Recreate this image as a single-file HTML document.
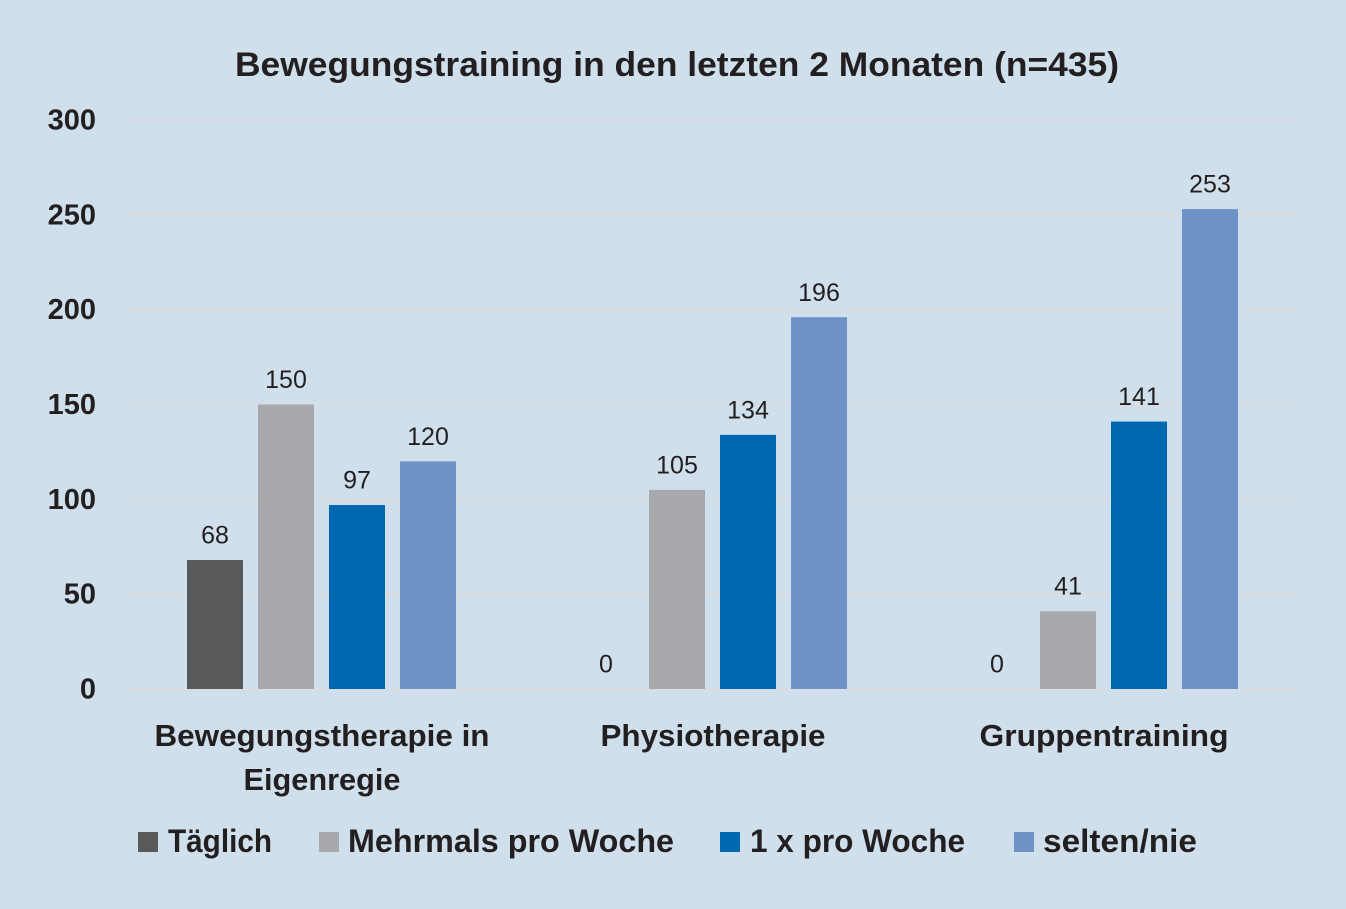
<!DOCTYPE html>
<html lang="de">
<head>
<meta charset="utf-8">
<title>Bewegungstraining in den letzten 2 Monaten</title>
<style>
html,body{margin:0;padding:0;background:#cfe0ec;}
svg{display:block;}
text{font-family:"Liberation Sans",sans-serif;fill:#231f20;}
.b{font-weight:700;}
</style>
</head>
<body>
<svg id="chart" xmlns="http://www.w3.org/2000/svg" width="1346" height="909" viewBox="0 0 1346 909">
<rect x="0" y="0" width="1346" height="909" fill="#cfe0ec"/>
<text class="b" x="677" y="76" font-size="34" text-anchor="middle" textLength="884" lengthAdjust="spacingAndGlyphs">Bewegungstraining in den letzten 2 Monaten (n=435)</text>
<g id="grid"></g>
<g id="ticks"></g>
<g id="bars"></g>
<g id="labels"></g>
<text class="b" x="322" y="746" font-size="31" text-anchor="middle" textLength="335" lengthAdjust="spacingAndGlyphs">Bewegungstherapie in</text>
<text class="b" x="322" y="790" font-size="31" text-anchor="middle" textLength="157" lengthAdjust="spacingAndGlyphs">Eigenregie</text>
<text class="b" x="713" y="746" font-size="31" text-anchor="middle" textLength="225" lengthAdjust="spacingAndGlyphs">Physiotherapie</text>
<text class="b" x="1104" y="746" font-size="31" text-anchor="middle" textLength="249" lengthAdjust="spacingAndGlyphs">Gruppentraining</text>
<g>
<rect x="138" y="832" width="20" height="20" fill="#58595b"/>
<text class="b" x="168" y="852" font-size="32" textLength="104" lengthAdjust="spacingAndGlyphs">Täglich</text>
<rect x="319" y="832" width="20" height="20" fill="#a7a9ac"/>
<text class="b" x="348" y="852" font-size="32" textLength="326" lengthAdjust="spacingAndGlyphs">Mehrmals pro Woche</text>
<rect x="720" y="832" width="20" height="20" fill="#0068b1"/>
<text class="b" x="750" y="852" font-size="32" textLength="215" lengthAdjust="spacingAndGlyphs">1 x pro Woche</text>
<rect x="1014" y="832" width="20" height="20" fill="#6e91c6"/>
<text class="b" x="1043" y="852" font-size="32" textLength="154" lengthAdjust="spacingAndGlyphs">selten/nie</text>
</g>
</svg>
<script>
const categories = ["Bewegungstherapie in Eigenregie", "Physiotherapie", "Gruppentraining"];
const seriesNames = ["Täglich", "Mehrmals pro Woche", "1 x pro Woche", "selten/nie"];
const seriesTaeglich = [68, 0, 0];
const seriesMehrmals = [150, 105, 41];
const seriesEinmal = [97, 134, 141];
const seriesSelten = [120, 196, 253];
const yTicks = [0, 50, 100, 150, 200, 250, 300];
const seriesColors = ["#58595b", "#a7a9ac", "#0068b1", "#6e91c6"];

const allSeries = [seriesTaeglich, seriesMehrmals, seriesEinmal, seriesSelten];
const NS = "http://www.w3.org/2000/svg";
const plotLeft = 126, plotRight = 1296, yBase = 689, yTop = 120, yMax = 300;
const bandW = 391, barW = 56, barStep = 71;
function yScale(v) { return yBase - (v / yMax) * (yBase - yTop); }
function groupCenter(i) { return plotLeft + bandW * (i + 0.5); }
function barX(i, s) { return Math.round(groupCenter(i) - (barStep * 3 + barW) / 2 + s * barStep); }
function make(tag, attrs, parent, txt) {
  const el = document.createElementNS(NS, tag);
  for (const k in attrs) el.setAttribute(k, attrs[k]);
  if (txt !== undefined) el.textContent = txt;
  parent.appendChild(el);
  return el;
}
const gGrid = document.getElementById("grid");
const gTicks = document.getElementById("ticks");
const gBars = document.getElementById("bars");
const gLabels = document.getElementById("labels");
yTicks.forEach(function (t) {
  const line = make("rect", {x: plotLeft, y: yScale(t) - 1, width: plotRight - plotLeft, height: 2, fill: "#d9dde1"}, gGrid);
  
  
  const lab = make("text", {x: 96, y: yScale(t) + 9.5, "font-size": 29, "font-weight": 700, "text-anchor": "end"}, gTicks, String(t));
  
  
});
allSeries.forEach(function (vals, s) {
  vals.forEach(function (v, i) {
    const x = barX(i, s), y = yScale(v);
    if (v > 0) {
      const bar = make("rect", {x: x, y: y, width: barW, height: yBase - y, fill: seriesColors[s]}, gBars);
      
      
    }
    const lab = make("text", {x: x + barW / 2, y: y - 16.5, "font-size": 25, "text-anchor": "middle"}, gLabels, String(v));
    
    
  });
});
</script>
</body>
</html>
